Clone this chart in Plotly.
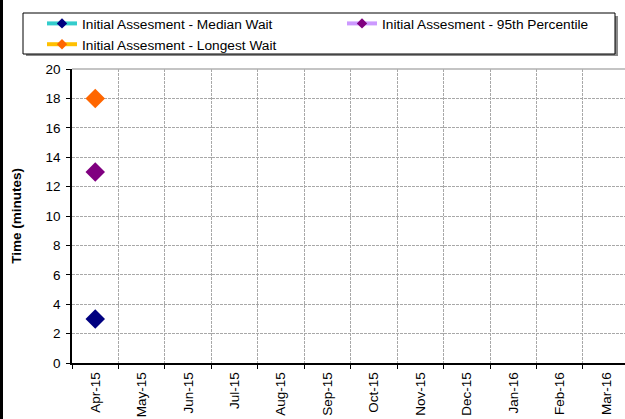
import plotly.graph_objects as go

months = ["Apr-15", "May-15", "Jun-15", "Jul-15", "Aug-15", "Sep-15",
          "Oct-15", "Nov-15", "Dec-15", "Jan-16", "Feb-16", "Mar-16"]
median_wait = [3] + [None] * 11
pct95_wait = [13] + [None] * 11
longest_wait = [18] + [None] * 11

series_names = ["Initial Assesment - Median Wait",
                "Initial Assesment - 95th Percentile",
                "Initial Assesment - Longest Wait"]
line_colors = ["#33CCCC", "#CC99FF", "#FFC000"]
marker_colors = ["#000080", "#800080", "#FF6600"]
series_values = [median_wait, pct95_wait, longest_wait]

W, H = 625, 419
L, R, T, B = 72, 0, 69, 56
PW = W - L - R
PH = H - T - B

def px2x(p):
    return (p - L) / PW

def py2y(p):
    return 1 - (p - T) / PH

fig = go.Figure()

for name, vals, lc, mc in zip(series_names, series_values, line_colors, marker_colors):
    fig.add_trace(go.Scatter(
        x=months, y=vals, mode="lines+markers", name=name, showlegend=False,
        line=dict(color=lc, width=3),
        marker=dict(symbol="diamond", size=15, color=mc),
        connectgaps=False,
    ))
# legend entries
for name, lc, mc in zip(series_names, line_colors, marker_colors):
    fig.add_trace(go.Scatter(
        x=[None], y=[None], mode="lines+markers", name=name, showlegend=True,
        line=dict(color=lc, width=4),
        marker=dict(symbol="diamond", size=8, color=mc),
    ))

FAM = "Liberation Sans, Arial, sans-serif"
tick_font = dict(family=FAM, size=13.5, color="#000000")
leg_font = dict(family=FAM, size=13.7, color="#000000")

fig.update_layout(
    width=W, height=H,
    margin=dict(l=L, r=R, t=T, b=B, autoexpand=False),
    paper_bgcolor="white", plot_bgcolor="white",
    font=tick_font,
    showlegend=True,
    legend=dict(
        orientation="h", x=px2x(42), y=py2y(8), xanchor="left", yanchor="top",
        borderwidth=0, bgcolor="rgba(0,0,0,0)",
        entrywidth=255, entrywidthmode="pixels",
        font=leg_font, tracegroupgap=0, itemwidth=30,
    ),
    xaxis=dict(
        type="category", categoryorder="array", categoryarray=months,
        range=[-0.5, -0.5 + PW / 46.45],
        tickson="boundaries", ticks="outside", ticklen=4, tickcolor="#000000",
        tickangle=-90, tickfont=tick_font, ticklabelstandoff=2,
        showgrid=True, gridcolor="#a8a8a8", griddash="3px,1px", gridwidth=1,
        showline=True, linecolor="#000000", linewidth=1.5,
        zeroline=False, fixedrange=True,
    ),
    yaxis=dict(
        range=[0, 20], dtick=2, tick0=0,
        ticks="outside", ticklen=4, tickcolor="#000000", tickfont=tick_font,
        ticklabelstandoff=3,
        showgrid=True, gridcolor="#a8a8a8", griddash="3px,1px", gridwidth=1,
        showline=True, linecolor="#000000", linewidth=1.5,
        zeroline=False, fixedrange=True,
        title=dict(text="<b>Time (minutes)</b>", font=dict(family=FAM, size=13.5, color="#000000"),
                   standoff=21),
    ),
    shapes=[
        dict(type="rect", xref="paper", yref="paper",
             x0=px2x(0), x1=px2x(3), y0=py2y(H), y1=py2y(0),
             fillcolor="#000000", line=dict(width=0), layer="above"),
        dict(type="line", xref="paper", yref="paper",
             x0=0, x1=1, y0=1, y1=1, line=dict(color="#b0b0b0", width=1.5)),
        # legend shadow
        dict(type="rect", xref="paper", yref="paper",
             x0=px2x(26), x1=px2x(618), y0=py2y(56), y1=py2y(16),
             fillcolor="#8a8a8a", line=dict(width=0), layer="below"),
        # legend box
        dict(type="rect", xref="paper", yref="paper",
             x0=px2x(23), x1=px2x(615), y0=py2y(54), y1=py2y(13),
             fillcolor="white", line=dict(color="#000000", width=1), layer="below"),
    ],
)

fig.write_html("out.html", config={"displayModeBar": False},
               post_script="document.body.style.margin='0';")
